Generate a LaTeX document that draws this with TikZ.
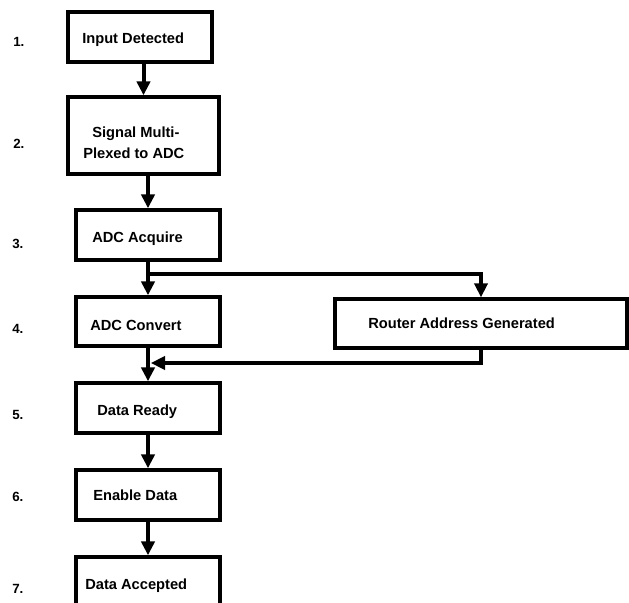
\documentclass[tikz,border=0pt]{standalone}
\usepackage{fontspec}
\setmainfont{Liberation Sans}
\usetikzlibrary{arrows.meta}

\tikzset{
  box/.style={draw, line width=2.6pt, minimum width=108pt, minimum height=37.5pt, inner sep=0pt},
  txt/.style={anchor=base west, inner sep=0pt, font=\fontsize{11}{13}\selectfont\bfseries},
  num/.style={anchor=base west, inner sep=0pt, font=\fontsize{10}{12}\selectfont\bfseries},
  flow/.style={line width=3pt, -{Triangle[width=10pt,length=10.5pt]}},
  branch/.style={line width=2.3pt, -{Triangle[width=10pt,length=10.5pt]}},
}

\begin{document}
\begin{tikzpicture}[x=0.75pt,y=0.75pt,yscale=-1,xscale=1]
\useasboundingbox (0,0) rectangle (629,603);
\clip (0,0) rectangle (629,603);
%Shape: Rectangle
\node [box] (b1) at (140,37) {};
%Shape: Rectangle
\node [box, minimum width=113.25pt, minimum height=57.75pt] (b2) at (143.5,135.5) {};
%Shape: Rectangle
\node [box] (b3) at (148,235) {};
%Shape: Rectangle
\node [box, minimum height=36.75pt] (b4) at (148,321.5) {};
%Shape: Rectangle
\node [box, minimum width=219pt, minimum height=36.75pt] (router) at (481,323.5) {};
%Shape: Rectangle
\node [box] (b5) at (148,408) {};
%Shape: Rectangle
\node [box] (b6) at (148,495) {};
%Shape: Rectangle
\node [box, minimum height=39pt] (b7) at (148,583) {};
\coordinate (fork) at (148,274);
\coordinate (join) at (151,363);
%Straight Lines
\draw [flow] (b1.south -| b2.north) -- (b2.north);
%Straight Lines
\draw [flow] (b2.south -| b3.north) -- (b3.north);
%Straight Lines
\draw [flow] (b3.south) -- (b4.north);
%Straight Lines
\draw [branch] (fork) -| (router.north);
%Straight Lines
\draw [branch] (router.south) |- (join);
%Straight Lines
\draw [flow] (b4.south) -- (b5.north);
%Straight Lines
\draw [flow] (b5.south) -- (b6.north);
%Straight Lines
\draw [flow] (b6.south) -- (b7.north);
% Text Node
\node [txt] (t1) at (82,43) {Input Detected};
% Text Node
\node [txt] (t2a) at (92,137) {Signal Multi-};
% Text Node
\node [txt] (t2b) at (83,158) {Plexed to ADC};
% Text Node
\node [txt] (t3) at (92,242) {ADC Acquire};
% Text Node
\node [txt] (t4) at (90,330) {ADC Convert};
% Text Node
\node [txt] (tr) at (368,328) {Router Address Generated};
% Text Node
\node [txt] (t5) at (97,415) {Data Ready};
% Text Node
\node [txt] (t6) at (93,500) {Enable Data};
% Text Node
\node [txt] (t7) at (85,589) {Data Accepted};
% Text Node
\node [num] (n1) at (13,46) {1.};
\node [num] (n2) at (13,148) {2.};
\node [num] (n3) at (12,248) {3.};
\node [num] (n4) at (12,333) {4.};
\node [num] (n5) at (12,419) {5.};
\node [num] (n6) at (12,501) {6.};
\node [num] (n7) at (12,593) {7.};
\end{tikzpicture}
\end{document}
